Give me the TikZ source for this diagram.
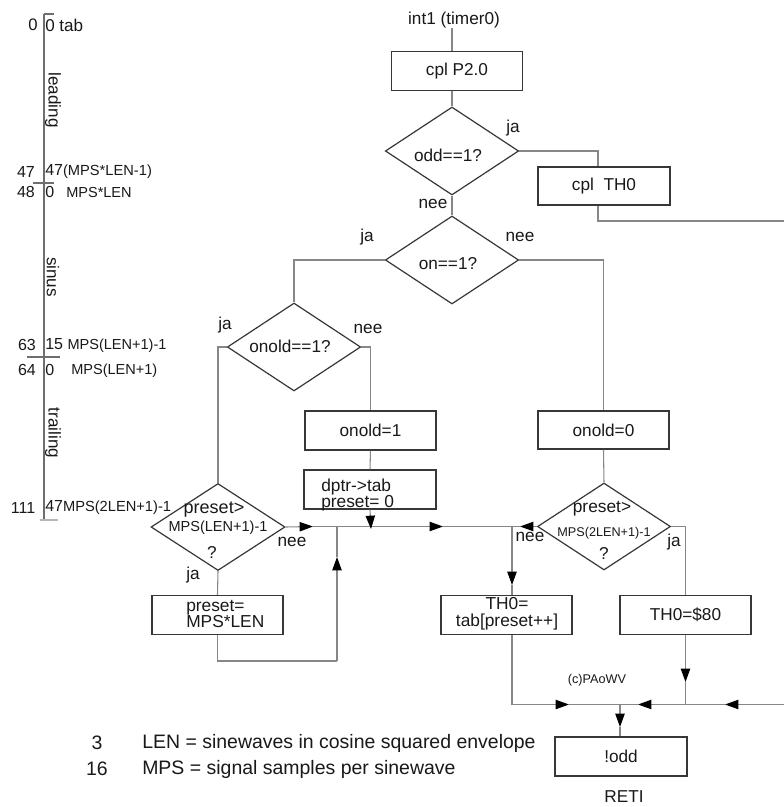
\documentclass[tikz,border=0pt]{standalone}
\usepackage{fontspec}
\setmainfont{Liberation Sans}
\usetikzlibrary{arrows.meta,shapes.geometric}
\definecolor{linegray}{RGB}{135,135,135}
\definecolor{boxgray}{RGB}{55,55,55}
\definecolor{txt}{RGB}{25,25,25}
\definecolor{scalegray}{RGB}{110,110,110}
\newcommand\mainf{\fontsize{12.9}{15}\selectfont}
\newcommand\tinyf{\fontsize{9.5}{11}\selectfont}
\begin{document}
\begin{tikzpicture}[x=0.75pt,y=-0.75pt,
  conn/.style={draw=linegray, line width=0.8pt},
  tip/.style={-{Triangle[length=10pt,width=7pt,color=black]}},
  box/.style={draw=boxgray, line width=1pt, minimum width=98.25pt, minimum height=29.25pt, inner sep=0pt, font=\mainf, text=txt},
  dia/.style={draw=boxgray, line width=0.9pt, shape=diamond, inner sep=0pt, minimum width=100pt, minimum height=66pt},
  lbl/.style={text=txt, font=\mainf, inner sep=0pt},
  sc/.style={draw=scalegray, line width=0.9pt}]
\fill[white] (0,0) rectangle (784,807);
\useasboundingbox (0,0) rectangle (784,807);

% ---------- left scale ----------
\coordinate (s0) at (44,14);
\coordinate (s1) at (44,520);
\draw[sc] (s0) -- (s1);
\coordinate (k0a) at (44,14); \coordinate (k0b) at (54,14);
\coordinate (k1a) at (33,183); \coordinate (k1b) at (54,183);
\coordinate (k2a) at (27,357); \coordinate (k2b) at (60,357);
\coordinate (k3a) at (40,520); \coordinate (k3b) at (58,520);
\draw[sc] (k0a) -- (k0b);
\draw[sc] (k1a) -- (k1b);
\draw[sc] (k2a) -- (k2b);
\draw[sc, draw=scalegray!50] (k3a) -- (k3b);
\node[lbl, font=\fontsize{12.5}{14}\selectfont] (n0l) at (33,25) {0};
\node[lbl, anchor=west, font=\fontsize{12.8}{14}\selectfont] (n0r) at (45,25) {0 tab};
\node[lbl, font=\fontsize{12}{14}\selectfont] (n47l) at (26,172) {47};
\node[lbl, anchor=west, font=\fontsize{12}{14}\selectfont] (n47r) at (45,172) {47{\fontsize{11}{12}\selectfont(MPS*LEN-1)}};
\node[lbl, font=\fontsize{12}{14}\selectfont] (n48l) at (26,192) {48};
\node[lbl, anchor=west, font=\fontsize{12}{14}\selectfont] (n48r) at (45,192) {0};
\node[lbl, anchor=west, font=\fontsize{10.9}{12}\selectfont] (n48t) at (66,192) {MPS*LEN};
\node[lbl, font=\fontsize{12}{14}\selectfont] (n63l) at (27,345) {63};
\node[lbl, anchor=west, font=\fontsize{12}{14}\selectfont] (n63r) at (45,345) {15 {\fontsize{10.9}{12}\selectfont MPS(LEN+1)-1}};
\node[lbl, font=\fontsize{12}{14}\selectfont] (n64l) at (27,370) {64};
\node[lbl, anchor=west, font=\fontsize{12}{14}\selectfont] (n64r) at (45,370) {0};
\node[lbl, anchor=west, font=\fontsize{10.9}{12}\selectfont] (n64t) at (71,371) {MPS(LEN+1)};
\node[lbl, font=\fontsize{12}{14}\selectfont] (n111l) at (23,508) {111};
\node[lbl, anchor=west, font=\fontsize{12}{14}\selectfont] (n111r) at (45,508) {47{\fontsize{11}{12}\selectfont MPS(2LEN+1)-1}};
\node[lbl, rotate=-90, font=\fontsize{12.8}{14}\selectfont] (lead) at (53,100) {leading};
\node[lbl, rotate=-90, font=\fontsize{12.8}{14}\selectfont] (sinus) at (53,277) {sinus};
\node[lbl, rotate=-90, font=\fontsize{12.8}{14}\selectfont] (trail) at (53,433) {trailing};

% ---------- flowchart nodes ----------
\node[lbl] (int1) at (454,20) {int1 (timer0)};
\node[box] (p20) at (457,71) {cpl P2.0};
\node[dia] (odd) at (452,151) {};
\node[lbl] (oddt) at (448,155) {odd==1?};
\node[box, minimum width=99pt, minimum height=28.5pt] (th0c) at (604,186) {cpl\ \ TH0};
\node[dia] (on) at (452,260) {};
\node[lbl] (ont) at (448,264) {on==1?};
\node[dia] (onold) at (294,347) {};
\node[lbl] (onoldt) at (290,346) {onold==1?};
\node[box] (ono1) at (370.5,430.5) {onold=1};
\node[box, minimum width=99pt] (dptr) at (370,489.5) {};
\node[lbl, anchor=west, align=left, font=\fontsize{13}{12}\selectfont] (dptrt) at (321,495) {dptr->tab\\preset= 0};
\node[box, minimum height=28.5pt] (ono0) at (603.5,430) {onold=0};
\node[dia, minimum width=100.5pt, minimum height=65.25pt] (ps1) at (218,527) {};
\node[lbl, font=\fontsize{13.5}{14}\selectfont] (ps1a) at (214,510) {preset>};
\node[lbl, font=\fontsize{10.9}{12}\selectfont] (ps1b) at (218,528) {MPS(LEN+1)-1};
\node[lbl] (ps1c) at (212,552) {?};
\node[dia, minimum width=99.75pt, minimum height=65.25pt] (ps2) at (604,526.5) {};
\node[lbl, font=\fontsize{13}{14}\selectfont] (ps2a) at (602,509) {preset>};
\node[lbl, font=\tinyf] (ps2b) at (604,533) {MPS(2LEN+1)-1};
\node[lbl] (ps2c) at (604,553) {?};
\node[box] (psb) at (217.5,615) {};
\node[lbl, anchor=west, align=left, font=\fontsize{13}{12}\selectfont] (psbt) at (186,614) {preset=\\MPS*LEN};
\node[box] (tab) at (506.5,615) {};
\node[lbl, align=center, font=\fontsize{13}{12.6}\selectfont] (tabt) at (507,613.5) {TH0=\\tab[preset++]};
\node[box] (th80) at (685.5,615) {TH0=\$80};
\node[box, minimum width=99pt] (nodd) at (621,756.5) {!odd};
\node[lbl] (reti) at (624,797) {RETI};
\node[lbl, font=\tinyf] (copy) at (597,680) {(c)PAoWV};

% ---------- branch labels ----------
\node[lbl] (ja1) at (513,128) {ja};
\node[lbl] (nee1) at (433,204) {nee};
\node[lbl] (ja2) at (367,237) {ja};
\node[lbl] (nee2) at (520,237) {nee};
\node[lbl] (ja3) at (225,325) {ja};
\node[lbl] (nee3) at (368,329) {nee};
\node[lbl] (nee4) at (292,542) {nee};
\node[lbl] (ja4) at (193,575) {ja};
\node[lbl] (nee5) at (530,537) {nee};
\node[lbl] (ja5) at (674,542) {ja};

% ---------- legend ----------
\node[lbl, font=\fontsize{14.6}{16}\selectfont] (l3) at (97,743) {3};
\node[lbl, anchor=west, font=\fontsize{14.6}{16}\selectfont] (l3t) at (142,743) {LEN = sinewaves in cosine squared envelope};
\node[lbl, font=\fontsize{14.6}{16}\selectfont] (l16) at (97,769) {16};
\node[lbl, anchor=west, font=\fontsize{14.6}{16}\selectfont] (l16t) at (142,769) {MPS = signal samples per sinewave};

% ---------- coordinates ----------
\coordinate (vx) at (598,221);
\coordinate (rt1) at (790,221);
\coordinate (rt2) at (790,704.5);
\coordinate (m1) at (313,526.5);
\coordinate (m2) at (443,526.5);
\coordinate (mj) at (512,526.5);
\coordinate (n2) at (520,526.5);
\coordinate (dd) at (371,529);
\coordinate (t1) at (512,585);
\coordinate (l2) at (337,661);
\coordinate (l3c) at (337,557);
\coordinate (ba) at (569,704.5);
\coordinate (bj) at (620,704.5);
\coordinate (bb) at (638,704.5);
\coordinate (bc) at (725,704.5);
\coordinate (bk) at (685.5,704.5);
\coordinate (dv) at (685.5,682);
\coordinate (dn) at (620,727);

% ---------- connectors ----------
\draw[conn] (odd.north |- int1.south) -- (odd.north |- p20.north);
\draw[conn] (odd.north |- p20.south) -- (odd.north);
\draw[conn] (odd.east) -| (vx |- th0c.north);
\draw[conn] (vx |- th0c.south) -- (vx) -- (rt1) -- (rt2);
\draw[conn] (odd.south) -- (on.north);
\draw[conn] (on.west) -| (onold.north);
\draw[conn] (on.east) -| (ono0.north);
\draw[conn] (onold.east) -| (ono1.north);
\draw[conn] (onold.west) -| (ps1.north);
\draw[conn] (ono1.south) -- (dptr.north);
\draw[conn] (ono0.south) -- (ps2.north);
\draw[conn] (ps1.south) -- (psb.north);
\draw[conn, tip] (ps1.east) -- (m1);
\draw[conn, tip] (m1) -- (m2);
\draw[conn] (m2) -- (mj);
\draw[conn, tip] (dptr.south) -- (dd);
\draw[conn, tip] (ps2.west) -- (n2);
\draw[conn] (n2) -- (mj);
\draw[conn, tip] (mj) -- (t1);
\draw[conn] (t1) -- (t1 |- tab.north);
\draw[conn] (psb.south) |- (l2);
\draw[conn, tip] (l2) -- (l3c);
\draw[conn] (l3c) -- (l3c |- m1);
\draw[conn] (ps2.east) -| (th80.north);
\draw[conn, tip] (t1 |- tab.south) |- (ba);
\draw[conn] (ba) -- (bj);
\draw[conn, tip] (th80.south) -- (dv);
\draw[conn] (dv) -- (bk);
\draw[conn, tip] (bk) -- (bb);
\draw[conn] (bb) -- (bj);
\draw[conn, tip] (rt2) -- (bc);
\draw[conn] (bc) -- (bk);
\draw[conn, tip] (bj) -- (dn);
\draw[conn] (dn) -- (dn |- nodd.north);
\end{tikzpicture}
\end{document}
